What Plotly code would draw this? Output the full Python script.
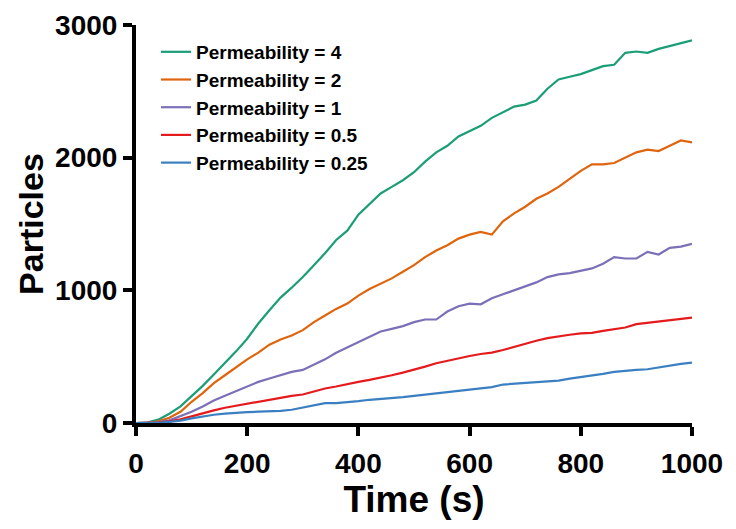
import plotly.graph_objects as go

time_s = [0, 20, 40, 60, 80, 100, 120, 140, 160, 180, 200, 220, 240, 260, 280, 300,
          320, 340, 360, 380, 400, 420, 440, 460, 480, 500, 520, 540, 560, 580, 600,
          620, 640, 660, 680, 700, 720, 740, 760, 780, 800, 820, 840, 860, 880, 900,
          920, 940, 960, 980, 1000]

perm_4 = [0, 3, 25, 70, 125, 200, 280, 365, 450, 540, 635, 750, 850, 945, 1020, 1100,
          1190, 1280, 1380, 1450, 1570, 1650, 1730, 1780, 1830, 1890, 1970, 2040, 2090, 2160, 2200,
          2240, 2300, 2340, 2385, 2400, 2430, 2520, 2590, 2610, 2630, 2660, 2690, 2700, 2790, 2800,
          2790, 2820, 2840, 2860, 2885]

perm_2 = [0, 2, 12, 40, 85, 160, 225, 300, 360, 420, 480, 530, 590, 630, 660, 700,
          760, 810, 860, 900, 960, 1010, 1050, 1090, 1140, 1190, 1250, 1300, 1340, 1390, 1420,
          1440, 1420, 1520, 1580, 1630, 1690, 1730, 1780, 1840, 1900, 1950, 1950, 1960, 2000, 2040,
          2060, 2050, 2090, 2130, 2115]

perm_1 = [0, 1, 6, 20, 50, 85, 125, 170, 205, 240, 275, 310, 335, 360, 385, 400,
          440, 480, 530, 570, 610, 645, 690, 710, 730, 760, 780, 780, 840, 880, 900,
          895, 940, 970, 1000, 1030, 1060, 1100, 1120, 1130, 1150, 1165, 1200, 1250, 1240, 1240,
          1290, 1270, 1320, 1330, 1350]

perm_05 = [0, 0, 3, 12, 28, 50, 75, 95, 115, 130, 145, 165, 180, 195, 205, 215,
           240, 260, 275, 295, 310, 325, 340, 360, 380, 400, 425, 450, 470, 490, 505,
           520, 530, 550, 575, 600, 620, 640, 655, 665, 675, 680, 695, 710, 720, 745,
           755, 760, 770, 780, 795]

perm_025 = [0, 0, 2, 8, 18, 35, 50, 62, 70, 77, 82, 85, 88, 92, 100, 115,
            135, 150, 150, 155, 165, 175, 180, 185, 195, 205, 215, 225, 232, 240, 250,
            262, 270, 290, 295, 300, 305, 312, 320, 335, 345, 360, 370, 385, 395, 400,
            405, 420, 430, 445, 455]

series_names = ["Permeability = 4", "Permeability = 2", "Permeability = 1",
                "Permeability = 0.5", "Permeability = 0.25"]
series_values = [perm_4, perm_2, perm_1, perm_05, perm_025]
colors = ["#1b9e77", "#e0640c", "#7b6fb8", "#e41a1c", "#3a7fc1"]

x_ticks = [0, 200, 400, 600, 800, 1000]
y_ticks = [0, 1000, 2000, 3000]

font_family = "Liberation Sans, Arial, sans-serif"

fig = go.Figure()
for name, vals, col in zip(series_names, series_values, colors):
    fig.add_trace(go.Scatter(x=time_s, y=vals, mode="lines", name=name,
                             line=dict(color=col, width=2.2)))

axis_common = dict(showline=True, linecolor="black", linewidth=4, ticks="outside",
                   ticklen=9, tickwidth=4, tickcolor="black", showgrid=False,
                   zeroline=False, mirror=False, ticklabeloverflow="allow",
                   tickfont=dict(family=font_family, size=28, color="black", weight="bold"))

fig.update_xaxes(range=[0, 1000], tickvals=x_ticks, ticktext=[str(v) for v in x_ticks],
                 ticklabelstandoff=3,
                 title=dict(text="<b>Time (s)</b>", font=dict(family=font_family, size=37, color="black"),
                            standoff=3),
                 **axis_common)
fig.update_yaxes(range=[0, 3000], tickvals=y_ticks, ticktext=[str(v) for v in y_ticks],
                 title=dict(text="<b>Particles</b>", font=dict(family=font_family, size=34, color="black"),
                            standoff=2),
                 **axis_common)

fig.update_layout(
    width=736, height=529,
    margin=dict(l=128, r=52, t=17, b=114, autoexpand=False),
    plot_bgcolor="white", paper_bgcolor="white",
    legend=dict(x=0.036, y=0.98, xanchor="left", yanchor="top",
                font=dict(family=font_family, size=19, color="black", weight="bold"),
                bgcolor="rgba(0,0,0,0)", tracegroupgap=0, itemwidth=30),
    showlegend=True,
)

fig.write_html("out.html")
